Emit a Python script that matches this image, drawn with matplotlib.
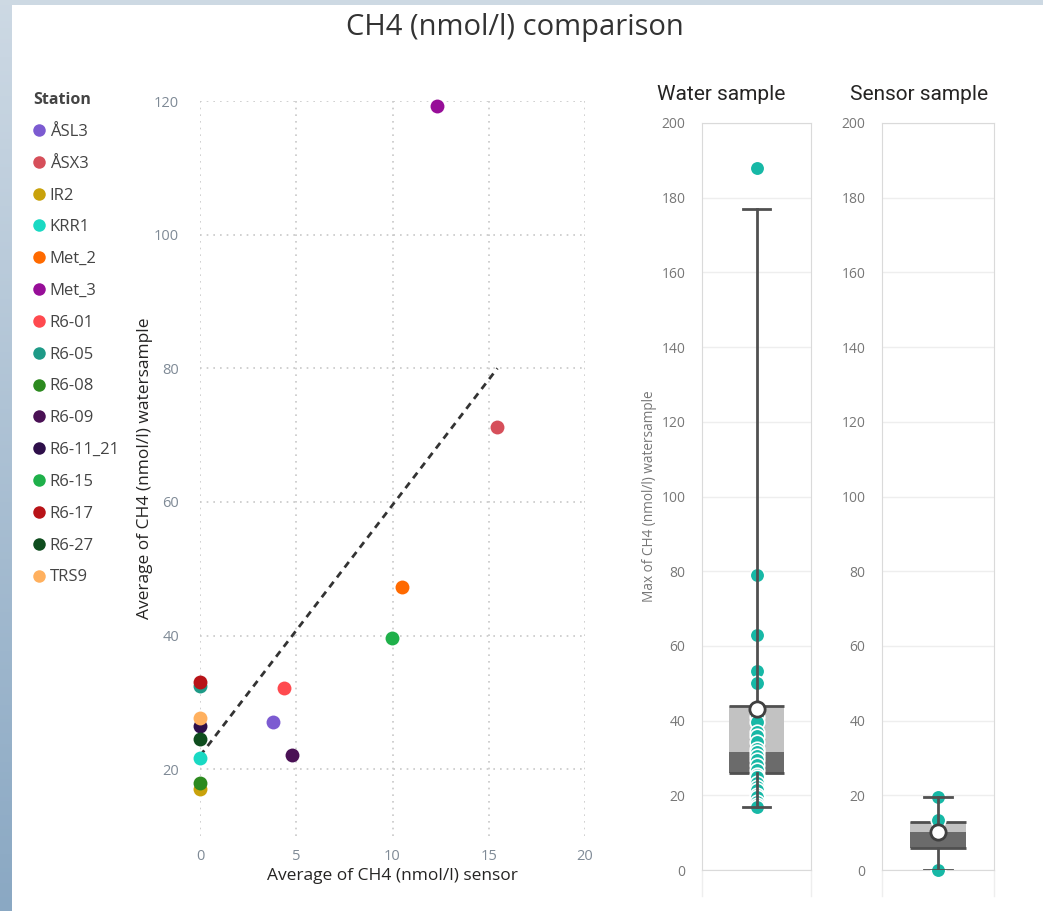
import numpy as np
import matplotlib.pyplot as plt
from matplotlib.lines import Line2D

# scatter data: one point per station (sensor avg, watersample avg)
stations = ["ÅSL3", "ÅSX3", "IR2", "KRR1", "Met_2", "Met_3", "R6-01", "R6-05",
            "R6-08", "R6-09", "R6-11_21", "R6-15", "R6-17", "R6-27", "TRS9"]
sensor_avg = [3.8, 15.45, 0, 0, 10.5, 12.3, 4.35, 0, 0, 4.78, 0, 9.95, 0, 0, 0]
water_avg = [27.1, 71.2, 17.0, 21.6, 47.2, 119.3, 32.1, 32.5, 18.0, 22.05, 26.5, 39.6, 33.1, 24.5, 27.6]
station_colors = ["#7C5BD1", "#D64F5A", "#C9A20B", "#19D9C3", "#FF6A00", "#970E98", "#FF4A4F",
                  "#1E9A87", "#2C8A1F", "#4A1155", "#2E0F4A", "#1FB04A", "#B81318", "#0E4D1E", "#FFB05E"]

# box plots: max of CH4 watersample
water_points = [188, 79, 63, 53.4, 50, 41, 39.5, 37, 36, 34.3, 32.5, 31.6, 30.5, 29.5, 28.1,
                26.8, 25.5, 24.9, 23.3, 22.2, 21.4, 20.2, 19.5, 18.2, 17.4, 17]
water_stats = {"whislo": 17, "q1": 26, "med": 31.6, "q3": 44, "whishi": 177, "mean": 43.1}
sensor_points = [19.5, 13.3, 0]
sensor_stats = {"whislo": 0, "q1": 5.9, "med": 10.3, "q3": 12.8, "whishi": 19.5, "mean": 10.1}

FONT = ["Open Sans", "DejaVu Sans"]
plt.rcParams["font.family"] = FONT

fig = plt.figure(figsize=(10.43, 9.11), dpi=100)
fig.patch.set_facecolor("white")

# report background strips
strip = fig.add_axes([0, 0, 12 / 1043, 1])
strip.imshow(np.linspace(0, 1, 256).reshape(-1, 1), aspect="auto",
             cmap=plt.matplotlib.colors.LinearSegmentedColormap.from_list("bg", ["#CDD9E4", "#8AA8C3"]))
strip.axis("off")
fig.add_artist(plt.Rectangle((0, 1 - 5 / 911), 1, 5 / 911, transform=fig.transFigure,
                             color="#CDD9E3", lw=0))

fig.text(515 / 1043, 1 - 28 / 911, "CH4 (nmol/l) comparison", ha="center", va="center",
         fontsize=21, color="#333333")

# ---- scatter ----
ax = fig.add_axes([200 / 1043, 1 - 836 / 911, 385 / 1043, 735 / 911])
for sx, wy, c in zip(sensor_avg, water_avg, station_colors):
    ax.scatter(sx, wy, s=100, color=c, lw=0, clip_on=False, zorder=3)

slope, intercept = np.polyfit(sensor_avg, water_avg, 1)
xs = np.array([0, max(sensor_avg)])
ax.plot(xs, intercept + slope * xs, color="#333333", lw=2, linestyle=(0, (2.5, 2)), zorder=2)

ax.set_xlim(0, 20)
ax.set_ylim(10, 120)
ax.set_xticks([0, 5, 10, 15, 20])
ax.set_yticks([20, 40, 60, 80, 100, 120])
ax.grid(True, linestyle=(0, (1, 3)), color="#C8C8C8", lw=1.2)
for s in ax.spines.values():
    s.set_visible(False)
ax.tick_params(length=0, labelsize=10.5, labelcolor="#7F8A96")
ax.tick_params(axis="y", pad=15)
ax.tick_params(axis="x", pad=9)
ax.set_xlabel("Average of CH4 (nmol/l) sensor", fontsize=12.5, color="#252423", labelpad=3)
ax.set_ylabel("Average of CH4 (nmol/l) watersample", fontsize=12.5, color="#252423")
ax.yaxis.set_label_coords(-0.122, 0.5)

handles = [Line2D([], [], marker="o", ls="", markersize=9, markerfacecolor=c, markeredgewidth=0)
           for c in station_colors]
leg = fig.legend(handles, stations, loc="upper left", bbox_to_anchor=(33 / 1043, 1 - 92 / 911),
                 frameon=False, title="Station", fontsize=12, labelspacing=0.95, handlelength=0.75,
                 handletextpad=0.25, borderpad=0, borderaxespad=0)
leg.get_title().set_fontweight("bold")
leg.get_title().set_fontsize(11.5)
leg.get_title().set_color("#444444")
for t in leg.get_texts():
    t.set_color("#444444")
leg._legend_box.align = "left"


# ---- box plots ----
def draw_box(axb, points, st, title, title_x):
    w = 1.0
    axb.bar(0, st["med"] - st["q1"], bottom=st["q1"], width=w, color="#6B6B6B", lw=0, zorder=2)
    axb.bar(0, st["q3"] - st["med"], bottom=st["med"], width=w, color="#C2C2C2", lw=0, zorder=2)
    axb.hlines([st["q1"], st["q3"]], -w / 2, w / 2, color="#505050", lw=2, zorder=3)
    axb.scatter(np.zeros(len(points)), points, s=110, color="#17B8A6", edgecolor="white",
                lw=1.2, zorder=4, clip_on=False)
    bx = dict(st, fliers=[])
    axb.bxp([bx], positions=[0], widths=w, showbox=False, showfliers=False, showmeans=True,
            whiskerprops=dict(color="#505050", lw=2), capprops=dict(color="#505050", lw=2),
            medianprops=dict(lw=0),
            meanprops=dict(marker="o", markersize=11, markerfacecolor="white",
                           markeredgecolor="#404040", markeredgewidth=2),
            manage_ticks=False)
    for a in axb.lines:
        a.set_zorder(5)
    axb.set_xlim(-1, 1)
    axb.set_ylim(0, 200)
    axb.set_yticks(range(0, 201, 20))
    axb.set_xticks([])
    axb.grid(axis="y", color="#EEEEEE", lw=1)
    axb.set_axisbelow(True)
    for s in axb.spines.values():
        s.set_color("#DADADA")
    axb.tick_params(length=0, labelsize=10, labelcolor="#777777", pad=12)
    for xx in (0, 1):
        axb.plot([xx, xx], [0, -0.035], transform=axb.transAxes, color="#EEEEEE", lw=1, clip_on=False)
    fig.text(title_x / 1043, 1 - 95 / 911, title, ha="center", va="center", fontsize=15,
             color="#252423", family=["Roboto", "DejaVu Sans"])


axw = fig.add_axes([702 / 1043, 1 - 870 / 911, 109 / 1043, 747 / 911])
draw_box(axw, water_points, water_stats, "Water sample", 721)
axw.set_ylabel("Max of CH4 (nmol/l) watersample", fontsize=9.8, color="#777777")
axw.yaxis.set_label_coords(-0.41, 0.5)

axs = fig.add_axes([882 / 1043, 1 - 870 / 911, 112 / 1043, 747 / 911])
draw_box(axs, sensor_points, sensor_stats, "Sensor sample", 919)

fig.savefig("out.png", dpi=100)
